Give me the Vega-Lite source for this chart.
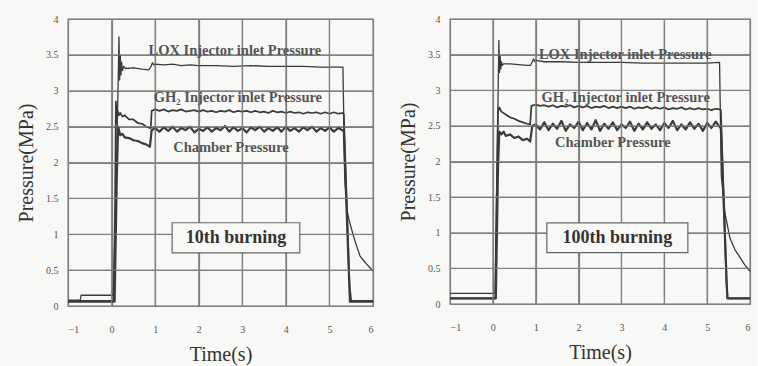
{
  "$schema": "https://vega.github.io/schema/vega-lite/v6.json",
  "background": "#f8f8f6",
  "padding": {"left": 15, "top": 13, "right": 3, "bottom": 3},
  "spacing": 20,
  "config": {
    "view": {"stroke": "#666666", "strokeWidth": 1.3},
    "axis": {
      "grid": true, "gridColor": "#7f7f7f", "gridWidth": 1.2, "gridOpacity": 1,
      "domain": false, "tickSize": 0, "tickOpacity": 0,
      "labelFont": "Liberation Serif", "labelFontSize": 10, "labelColor": "#555555",
      "titleFont": "Liberation Serif", "titleFontSize": 20, "titleFontWeight": "normal", "titleColor": "#333333"
    },
    "axisX": {"labelPadding": 18, "titlePadding": 10},
    "axisY": {"labelPadding": 10, "titlePadding": 9}
  },
  "datasets": {
    "grid": [
      {"g":"v2","t":0,"p":0},{"g":"v2","t":0,"p":4},
      {"g":"v3","t":1,"p":0},{"g":"v3","t":1,"p":4},
      {"g":"v4","t":2,"p":0},{"g":"v4","t":2,"p":4},
      {"g":"v5","t":3,"p":0},{"g":"v5","t":3,"p":4},
      {"g":"v6","t":4,"p":0},{"g":"v6","t":4,"p":4},
      {"g":"v7","t":5,"p":0},{"g":"v7","t":5,"p":4},
      {"g":"h2","t":-1,"p":0.5},{"g":"h2","t":6,"p":0.5},
      {"g":"h3","t":-1,"p":1},{"g":"h3","t":6,"p":1},
      {"g":"h4","t":-1,"p":1.5},{"g":"h4","t":6,"p":1.5},
      {"g":"h5","t":-1,"p":2},{"g":"h5","t":6,"p":2},
      {"g":"h6","t":-1,"p":2.5},{"g":"h6","t":6,"p":2.5},
      {"g":"h7","t":-1,"p":3},{"g":"h7","t":6,"p":3},
      {"g":"h8","t":-1,"p":3.5},{"g":"h8","t":6,"p":3.5}
    ],
    "d10": [
      {"s":"L","t":-1,"p":0.08},{"s":"L","t":-0.72,"p":0.08},{"s":"L","t":-0.7,"p":0.15},{"s":"L","t":0.04,"p":0.15},{"s":"L","t":0.1,"p":1.6},{"s":"L","t":0.15,"p":3.1},{"s":"L","t":0.17,"p":3.75},{"s":"L","t":0.185,"p":3.15},{"s":"L","t":0.2,"p":3.5},{"s":"L","t":0.215,"p":3.22},{"s":"L","t":0.23,"p":3.4},{"s":"L","t":0.25,"p":3.28},{"s":"L","t":0.28,"p":3.34},{"s":"L","t":0.32,"p":3.31},{"s":"L","t":0.5,"p":3.32},{"s":"L","t":0.7,"p":3.3},{"s":"L","t":0.85,"p":3.29},{"s":"L","t":0.9,"p":3.33},{"s":"L","t":0.94,"p":3.39},{"s":"L","t":0.97,"p":3.36},{"s":"L","t":1.0,"p":3.37},{"s":"L","t":1.2,"p":3.36},{"s":"L","t":1.4,"p":3.37},{"s":"L","t":1.6,"p":3.35},{"s":"L","t":1.8,"p":3.36},{"s":"L","t":2.0,"p":3.35},{"s":"L","t":2.4,"p":3.35},{"s":"L","t":2.8,"p":3.34},{"s":"L","t":3.2,"p":3.35},{"s":"L","t":3.6,"p":3.34},{"s":"L","t":4.0,"p":3.34},{"s":"L","t":4.4,"p":3.34},{"s":"L","t":4.8,"p":3.33},{"s":"L","t":5.2,"p":3.33},{"s":"L","t":5.31,"p":3.33},{"s":"L","t":5.35,"p":1.8},{"s":"L","t":5.4,"p":1.35},{"s":"L","t":5.45,"p":1.2},{"s":"L","t":5.54,"p":1.0},{"s":"L","t":5.6,"p":0.88},{"s":"L","t":5.7,"p":0.7},{"s":"L","t":5.8,"p":0.62},{"s":"L","t":5.86,"p":0.58},{"s":"L","t":5.95,"p":0.52},{"s":"L","t":6.0,"p":0.49},
      {"s":"G","t":-1,"p":0.07},{"s":"G","t":0.05,"p":0.07},{"s":"G","t":0.08,"p":1.4},{"s":"G","t":0.1,"p":2.85},{"s":"G","t":0.12,"p":2.55},{"s":"G","t":0.14,"p":2.72},{"s":"G","t":0.17,"p":2.66},{"s":"G","t":0.2,"p":2.69},{"s":"G","t":0.25,"p":2.64},{"s":"G","t":0.3,"p":2.66},{"s":"G","t":0.4,"p":2.6},{"s":"G","t":0.5,"p":2.6},{"s":"G","t":0.6,"p":2.55},{"s":"G","t":0.7,"p":2.54},{"s":"G","t":0.8,"p":2.5},{"s":"G","t":0.9,"p":2.48},{"s":"G","t":0.92,"p":2.72},
      {"s":"G","t":1.0,"p":2.74},{"s":"G","t":1.1,"p":2.72},{"s":"G","t":1.2,"p":2.74},{"s":"G","t":1.3,"p":2.71},{"s":"G","t":1.4,"p":2.73},{"s":"G","t":1.5,"p":2.72},{"s":"G","t":1.6,"p":2.74},{"s":"G","t":1.7,"p":2.71},{"s":"G","t":1.8,"p":2.72},{"s":"G","t":1.9,"p":2.73},{"s":"G","t":2.0,"p":2.71},{"s":"G","t":2.1,"p":2.73},{"s":"G","t":2.2,"p":2.71},{"s":"G","t":2.3,"p":2.72},{"s":"G","t":2.4,"p":2.70},{"s":"G","t":2.5,"p":2.72},{"s":"G","t":2.6,"p":2.71},{"s":"G","t":2.7,"p":2.73},{"s":"G","t":2.8,"p":2.70},{"s":"G","t":2.9,"p":2.72},{"s":"G","t":3.0,"p":2.71},{"s":"G","t":3.1,"p":2.72},{"s":"G","t":3.2,"p":2.70},{"s":"G","t":3.3,"p":2.72},{"s":"G","t":3.4,"p":2.70},{"s":"G","t":3.5,"p":2.71},{"s":"G","t":3.6,"p":2.69},{"s":"G","t":3.7,"p":2.72},{"s":"G","t":3.8,"p":2.70},{"s":"G","t":3.9,"p":2.71},{"s":"G","t":4.0,"p":2.69},{"s":"G","t":4.1,"p":2.71},{"s":"G","t":4.2,"p":2.69},{"s":"G","t":4.3,"p":2.70},{"s":"G","t":4.4,"p":2.68},{"s":"G","t":4.5,"p":2.70},{"s":"G","t":4.6,"p":2.69},{"s":"G","t":4.7,"p":2.70},{"s":"G","t":4.8,"p":2.68},{"s":"G","t":4.9,"p":2.70},{"s":"G","t":5.0,"p":2.68},{"s":"G","t":5.1,"p":2.70},{"s":"G","t":5.2,"p":2.68},{"s":"G","t":5.3,"p":2.69},{"s":"G","t":5.33,"p":2.67},{"s":"G","t":5.46,"p":0.3},{"s":"G","t":5.5,"p":0.07},{"s":"G","t":6.0,"p":0.07},
      {"s":"C","t":-1,"p":0.06},{"s":"C","t":0.07,"p":0.06},{"s":"C","t":0.12,"p":1.8},{"s":"C","t":0.15,"p":2.5},{"s":"C","t":0.2,"p":2.38},{"s":"C","t":0.25,"p":2.4},{"s":"C","t":0.3,"p":2.35},{"s":"C","t":0.4,"p":2.34},{"s":"C","t":0.5,"p":2.31},{"s":"C","t":0.6,"p":2.3},{"s":"C","t":0.7,"p":2.27},{"s":"C","t":0.8,"p":2.25},{"s":"C","t":0.88,"p":2.22},{"s":"C","t":0.92,"p":2.45},
      {"s":"C","t":1.0,"p":2.48},{"s":"C","t":1.1,"p":2.43},{"s":"C","t":1.2,"p":2.49},{"s":"C","t":1.3,"p":2.44},{"s":"C","t":1.4,"p":2.50},{"s":"C","t":1.5,"p":2.43},{"s":"C","t":1.6,"p":2.48},{"s":"C","t":1.7,"p":2.45},{"s":"C","t":1.8,"p":2.50},{"s":"C","t":1.9,"p":2.42},{"s":"C","t":2.0,"p":2.47},{"s":"C","t":2.1,"p":2.44},{"s":"C","t":2.2,"p":2.49},{"s":"C","t":2.3,"p":2.43},{"s":"C","t":2.4,"p":2.48},{"s":"C","t":2.5,"p":2.45},{"s":"C","t":2.6,"p":2.51},{"s":"C","t":2.7,"p":2.43},{"s":"C","t":2.8,"p":2.49},{"s":"C","t":2.9,"p":2.44},{"s":"C","t":3.0,"p":2.48},{"s":"C","t":3.1,"p":2.42},{"s":"C","t":3.2,"p":2.49},{"s":"C","t":3.3,"p":2.45},{"s":"C","t":3.4,"p":2.50},{"s":"C","t":3.5,"p":2.43},{"s":"C","t":3.6,"p":2.48},{"s":"C","t":3.7,"p":2.44},{"s":"C","t":3.8,"p":2.49},{"s":"C","t":3.9,"p":2.43},{"s":"C","t":4.0,"p":2.50},{"s":"C","t":4.1,"p":2.44},{"s":"C","t":4.2,"p":2.48},{"s":"C","t":4.3,"p":2.43},{"s":"C","t":4.4,"p":2.49},{"s":"C","t":4.5,"p":2.45},{"s":"C","t":4.6,"p":2.50},{"s":"C","t":4.7,"p":2.43},{"s":"C","t":4.8,"p":2.48},{"s":"C","t":4.9,"p":2.44},{"s":"C","t":5.0,"p":2.49},{"s":"C","t":5.1,"p":2.43},{"s":"C","t":5.2,"p":2.48},{"s":"C","t":5.3,"p":2.45},{"s":"C","t":5.33,"p":2.44},{"s":"C","t":5.47,"p":0.06},{"s":"C","t":6.0,"p":0.06}
    ],
    "d100": [
      {"s":"L","t":-1,"p":0.15},{"s":"L","t":0.05,"p":0.15},{"s":"L","t":0.1,"p":2.0},{"s":"L","t":0.14,"p":3.7},{"s":"L","t":0.155,"p":3.25},{"s":"L","t":0.17,"p":3.48},{"s":"L","t":0.185,"p":3.3},{"s":"L","t":0.2,"p":3.4},{"s":"L","t":0.22,"p":3.35},{"s":"L","t":0.25,"p":3.37},{"s":"L","t":0.4,"p":3.37},{"s":"L","t":0.6,"p":3.36},{"s":"L","t":0.8,"p":3.35},{"s":"L","t":0.88,"p":3.35},{"s":"L","t":0.92,"p":3.4},{"s":"L","t":0.95,"p":3.44},{"s":"L","t":0.98,"p":3.4},{"s":"L","t":1.0,"p":3.42},{"s":"L","t":1.2,"p":3.4},{"s":"L","t":1.6,"p":3.4},{"s":"L","t":2.0,"p":3.39},{"s":"L","t":2.5,"p":3.39},{"s":"L","t":3.0,"p":3.39},{"s":"L","t":3.5,"p":3.38},{"s":"L","t":4.0,"p":3.38},{"s":"L","t":4.5,"p":3.38},{"s":"L","t":5.0,"p":3.38},{"s":"L","t":5.29,"p":3.39},{"s":"L","t":5.33,"p":1.8},{"s":"L","t":5.42,"p":1.26},{"s":"L","t":5.53,"p":0.93},{"s":"L","t":5.65,"p":0.76},{"s":"L","t":5.77,"p":0.65},{"s":"L","t":5.9,"p":0.53},{"s":"L","t":6.0,"p":0.46},
      {"s":"G","t":-1,"p":0.08},{"s":"G","t":0.06,"p":0.08},{"s":"G","t":0.09,"p":1.5},{"s":"G","t":0.12,"p":2.7},{"s":"G","t":0.15,"p":2.76},{"s":"G","t":0.2,"p":2.7},{"s":"G","t":0.3,"p":2.66},{"s":"G","t":0.4,"p":2.62},{"s":"G","t":0.5,"p":2.6},{"s":"G","t":0.6,"p":2.57},{"s":"G","t":0.7,"p":2.55},{"s":"G","t":0.8,"p":2.53},{"s":"G","t":0.87,"p":2.52},{"s":"G","t":0.9,"p":2.78},
      {"s":"G","t":1.0,"p":2.80},{"s":"G","t":1.1,"p":2.78},{"s":"G","t":1.2,"p":2.79},{"s":"G","t":1.3,"p":2.77},{"s":"G","t":1.4,"p":2.79},{"s":"G","t":1.5,"p":2.76},{"s":"G","t":1.6,"p":2.78},{"s":"G","t":1.7,"p":2.77},{"s":"G","t":1.8,"p":2.79},{"s":"G","t":1.9,"p":2.76},{"s":"G","t":2.0,"p":2.78},{"s":"G","t":2.1,"p":2.76},{"s":"G","t":2.2,"p":2.78},{"s":"G","t":2.3,"p":2.75},{"s":"G","t":2.4,"p":2.77},{"s":"G","t":2.5,"p":2.76},{"s":"G","t":2.6,"p":2.78},{"s":"G","t":2.7,"p":2.75},{"s":"G","t":2.8,"p":2.77},{"s":"G","t":2.9,"p":2.75},{"s":"G","t":3.0,"p":2.77},{"s":"G","t":3.1,"p":2.75},{"s":"G","t":3.2,"p":2.77},{"s":"G","t":3.3,"p":2.74},{"s":"G","t":3.4,"p":2.76},{"s":"G","t":3.5,"p":2.75},{"s":"G","t":3.6,"p":2.77},{"s":"G","t":3.7,"p":2.74},{"s":"G","t":3.8,"p":2.76},{"s":"G","t":3.9,"p":2.74},{"s":"G","t":4.0,"p":2.76},{"s":"G","t":4.1,"p":2.73},{"s":"G","t":4.2,"p":2.75},{"s":"G","t":4.3,"p":2.74},{"s":"G","t":4.4,"p":2.76},{"s":"G","t":4.5,"p":2.73},{"s":"G","t":4.6,"p":2.75},{"s":"G","t":4.7,"p":2.73},{"s":"G","t":4.8,"p":2.75},{"s":"G","t":4.9,"p":2.73},{"s":"G","t":5.0,"p":2.74},{"s":"G","t":5.1,"p":2.72},{"s":"G","t":5.2,"p":2.74},{"s":"G","t":5.3,"p":2.73},{"s":"G","t":5.32,"p":2.72},{"s":"G","t":5.45,"p":0.3},{"s":"G","t":5.48,"p":0.08},{"s":"G","t":6.0,"p":0.08},
      {"s":"C","t":-1,"p":0.08},{"s":"C","t":0.07,"p":0.08},{"s":"C","t":0.12,"p":1.9},{"s":"C","t":0.15,"p":2.42},{"s":"C","t":0.2,"p":2.38},{"s":"C","t":0.25,"p":2.42},{"s":"C","t":0.3,"p":2.36},{"s":"C","t":0.4,"p":2.38},{"s":"C","t":0.5,"p":2.33},{"s":"C","t":0.6,"p":2.35},{"s":"C","t":0.7,"p":2.3},{"s":"C","t":0.8,"p":2.32},{"s":"C","t":0.87,"p":2.28},{"s":"C","t":0.92,"p":2.5},
      {"s":"C","t":1.0,"p":2.52},{"s":"C","t":1.1,"p":2.45},{"s":"C","t":1.2,"p":2.55},{"s":"C","t":1.3,"p":2.44},{"s":"C","t":1.4,"p":2.53},{"s":"C","t":1.5,"p":2.46},{"s":"C","t":1.6,"p":2.57},{"s":"C","t":1.7,"p":2.43},{"s":"C","t":1.8,"p":2.52},{"s":"C","t":1.9,"p":2.47},{"s":"C","t":2.0,"p":2.56},{"s":"C","t":2.1,"p":2.44},{"s":"C","t":2.2,"p":2.54},{"s":"C","t":2.3,"p":2.45},{"s":"C","t":2.4,"p":2.58},{"s":"C","t":2.5,"p":2.43},{"s":"C","t":2.6,"p":2.53},{"s":"C","t":2.7,"p":2.46},{"s":"C","t":2.8,"p":2.55},{"s":"C","t":2.9,"p":2.44},{"s":"C","t":3.0,"p":2.52},{"s":"C","t":3.1,"p":2.47},{"s":"C","t":3.2,"p":2.56},{"s":"C","t":3.3,"p":2.43},{"s":"C","t":3.4,"p":2.53},{"s":"C","t":3.5,"p":2.45},{"s":"C","t":3.6,"p":2.55},{"s":"C","t":3.7,"p":2.46},{"s":"C","t":3.8,"p":2.52},{"s":"C","t":3.9,"p":2.44},{"s":"C","t":4.0,"p":2.54},{"s":"C","t":4.1,"p":2.47},{"s":"C","t":4.2,"p":2.57},{"s":"C","t":4.3,"p":2.44},{"s":"C","t":4.4,"p":2.52},{"s":"C","t":4.5,"p":2.45},{"s":"C","t":4.6,"p":2.55},{"s":"C","t":4.7,"p":2.46},{"s":"C","t":4.8,"p":2.53},{"s":"C","t":4.9,"p":2.43},{"s":"C","t":5.0,"p":2.54},{"s":"C","t":5.1,"p":2.47},{"s":"C","t":5.2,"p":2.56},{"s":"C","t":5.3,"p":2.48},{"s":"C","t":5.32,"p":2.47},{"s":"C","t":5.47,"p":0.08},{"s":"C","t":6.0,"p":0.08}
    ],
    "lab10": [
      {"t":2.83,"p":3.55,"label":"LOX Injector inlet Pressure"},
      {"t":2.9,"p":2.9,"label":"GH₂ Injector inlet Pressure"},
      {"t":2.74,"p":2.2,"label":"Chamber Pressure"}
    ],
    "lab100": [
      {"t":3.09,"p":3.5,"label":"LOX Injector inlet Pressure"},
      {"t":3.1,"p":2.89,"label":"GH₂ Injector inlet Pressure"},
      {"t":2.8,"p":2.26,"label":"Chamber Pressure"}
    ],
    "box10": [{"t":1.39,"t2":4.32,"p":0.74,"p2":1.16}],
    "box100": [{"t":1.26,"t2":4.55,"p":0.72,"p2":1.14}],
    "bt10": [{"t":2.855,"p":0.95,"label":"10th burning"}],
    "bt100": [{"t":2.905,"p":0.93,"label":"100th burning"}]
  },
  "hconcat": [
    {
      "width": 305, "height": 287,
      "encoding": {
        "x": {"field": "t", "type": "quantitative", "title": "Time(s)", "scale": {"domain": [-1, 6], "nice": false, "zero": false}, "axis": {"grid": true, "values": [-1,0,1,2,3,4,5,6], "format": "~g"}},
        "y": {"field": "p", "type": "quantitative", "title": "Pressure(MPa)", "scale": {"domain": [0, 4], "nice": false}, "axis": {"grid": true, "values": [0,0.5,1,1.5,2,2.5,3,3.5,4], "format": "~g"}}
      },
      "layer": [
        {
          "data": {"name": "d10"},
          "mark": {"type": "line", "color": "#3a3a3a", "strokeJoin": "round"},
          "encoding": {
            "detail": {"field": "s"},
            "strokeWidth": {"field": "s", "type": "nominal", "scale": {"domain": ["L","G","C"], "range": [1.3, 2.2, 2.8]}, "legend": null}
          }
        },
        {"data": {"name": "grid"}, "mark": {"type": "line", "color": "#7f7f7f", "strokeWidth": 1.2, "opacity": 0.9}, "encoding": {"detail": {"field": "g"}}},
        {
          "data": {"name": "box10"},
          "mark": {"type": "rect", "fill": "#f8f8f6", "stroke": "#666666", "strokeWidth": 1.2},
          "encoding": {"x2": {"field": "t2"}, "y2": {"field": "p2"}}
        },
        {
          "data": {"name": "bt10"},
          "mark": {"type": "text", "font": "Liberation Serif", "fontSize": 18, "fontWeight": "bold", "color": "#333333"},
          "encoding": {"text": {"field": "label"}}
        },
        {
          "data": {"name": "lab10"},
          "mark": {"type": "text", "font": "Liberation Serif", "fontSize": 14.5, "fontWeight": "bold", "color": "#555555"},
          "encoding": {"text": {"field": "label"}}
        }
      ]
    },
    {
      "width": 300, "height": 285,
      "encoding": {
        "x": {"field": "t", "type": "quantitative", "title": "Time(s)", "scale": {"domain": [-1, 6], "nice": false, "zero": false}, "axis": {"grid": true, "values": [-1,0,1,2,3,4,5,6], "format": "~g"}},
        "y": {"field": "p", "type": "quantitative", "title": "Pressure(MPa)", "scale": {"domain": [0, 4], "nice": false}, "axis": {"grid": true, "values": [0,0.5,1,1.5,2,2.5,3,3.5,4], "format": "~g"}}
      },
      "layer": [
        {
          "data": {"name": "d100"},
          "mark": {"type": "line", "color": "#3a3a3a", "strokeJoin": "round"},
          "encoding": {
            "detail": {"field": "s"},
            "strokeWidth": {"field": "s", "type": "nominal", "scale": {"domain": ["L","G","C"], "range": [1.3, 2.2, 2.8]}, "legend": null}
          }
        },
        {"data": {"name": "grid"}, "mark": {"type": "line", "color": "#7f7f7f", "strokeWidth": 1.2, "opacity": 0.9}, "encoding": {"detail": {"field": "g"}}},
        {
          "data": {"name": "box100"},
          "mark": {"type": "rect", "fill": "#f8f8f6", "stroke": "#666666", "strokeWidth": 1.2},
          "encoding": {"x2": {"field": "t2"}, "y2": {"field": "p2"}}
        },
        {
          "data": {"name": "bt100"},
          "mark": {"type": "text", "font": "Liberation Serif", "fontSize": 18, "fontWeight": "bold", "color": "#333333"},
          "encoding": {"text": {"field": "label"}}
        },
        {
          "data": {"name": "lab100"},
          "mark": {"type": "text", "font": "Liberation Serif", "fontSize": 14.5, "fontWeight": "bold", "color": "#555555"},
          "encoding": {"text": {"field": "label"}}
        }
      ]
    }
  ]
}
